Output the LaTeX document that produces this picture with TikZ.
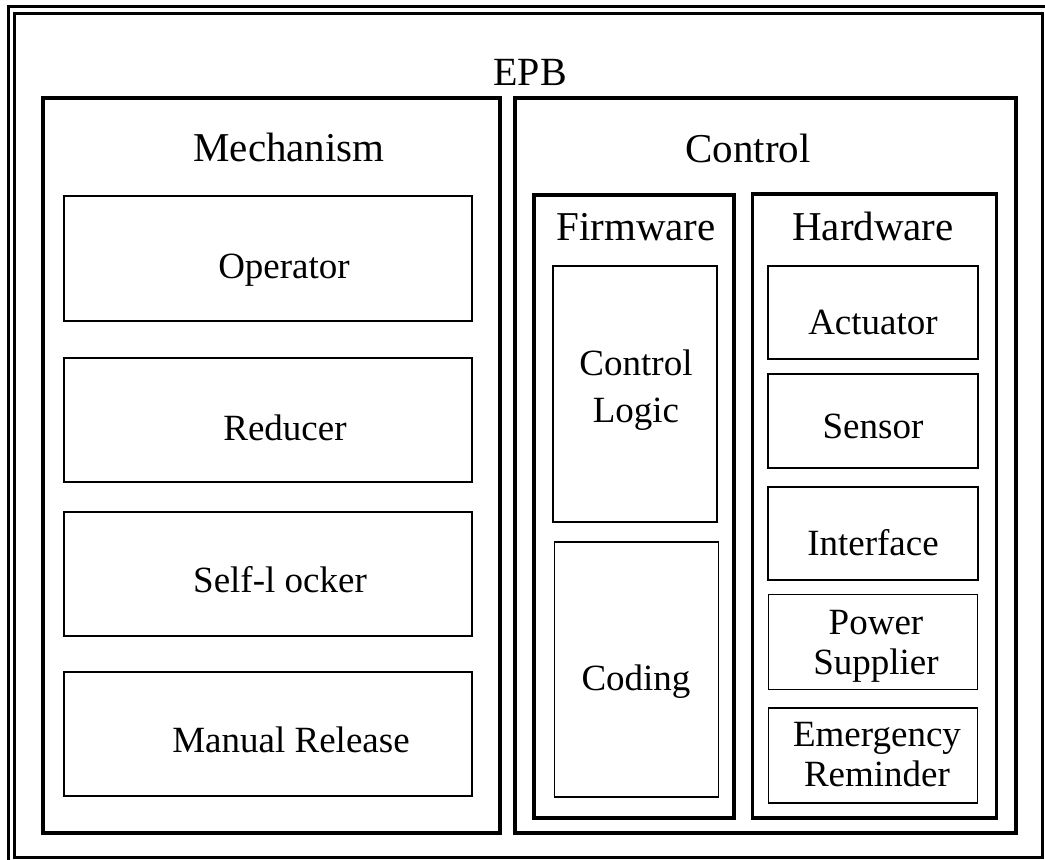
\documentclass[tikz,border=0pt]{standalone}
\usepackage{fontspec}
\setmainfont{Liberation Serif}
\begin{document}
\begin{tikzpicture}[x=1pt, y=-1pt,
    frame/.style={draw, line width=3.5pt, inner sep=0pt},
    part/.style={draw, line width=1.8pt, inner sep=0pt},
    head/.style={font=\fontsize{41}{46}\selectfont, anchor=base},
    word/.style={font=\fontsize{37}{40}\selectfont, anchor=base},
    lines/.style={font=\fontsize{37}{40}\selectfont, align=center}]
  \useasboundingbox (0,0) rectangle (1045,860);
  % double frame round the whole
  \draw[line width=3pt] (8,860) -- (8,6) -- (1045,6);
  \node[frame, line width=3pt, minimum width=1028pt, minimum height=844pt] (epb) at (528,435) {};
  \node[head, font=\fontsize{40}{44}\selectfont] (epbt) at (530,85) {EPB};

  % mechanism side
  \node[frame, minimum width=457pt, minimum height=735pt] (mech) at (271.5,465.5) {};
  \node[head] (mecht) at (289,161) {Mechanism};
  \node[part, minimum width=408pt, minimum height=125pt] (op) at (268,258.5) {};
  \node[part, minimum width=408pt, minimum height=124pt] (red) at (268,420) {};
  \node[part, minimum width=408pt, minimum height=124pt] (lock) at (268,574) {};
  \node[part, minimum width=408pt, minimum height=124pt] (man) at (268,734) {};
  \node[word] (opt) at (284,278) {Operator};
  \node[word] (redt) at (285,440) {Reducer};
  \node[word] (lockt) at (280,592) {Self-l ocker};
  \node[word] (mant) at (291,752) {Manual Release};

  % control side
  \node[frame, minimum width=501pt, minimum height=735pt] (ctrl) at (765.5,465.5) {};
  \node[head] (ctrlt) at (748,162) {Control};
  \node[frame, minimum width=200pt, minimum height=623pt] (fw) at (634,506.5) {};
  \node[head] (fwt) at (636,240) {Firmware};
  \node[part, minimum width=164pt, minimum height=256pt] (logic) at (635,394) {};
  \node[part, minimum width=164pt, minimum height=255pt] (code) at (636.5,669.5) {};
  \node[lines] (logict) at (636,390) {Control\\[7pt]Logic};
  \node[word] (codet) at (636,690) {Coding};

  \node[frame, minimum width=244pt, minimum height=624pt] (hw) at (874.5,506) {};
  \node[head] (hwt) at (873,240) {Hardware};
  \node[part, minimum width=210pt, minimum height=93pt] (act) at (873,312.5) {};
  \node[part, minimum width=210pt, minimum height=94pt] (sen) at (873,421) {};
  \node[part, minimum width=210pt, minimum height=93pt] (itf) at (873,533.5) {};
  \node[part, minimum width=209pt, minimum height=95pt] (pow) at (873,642) {};
  \node[part, minimum width=209pt, minimum height=95pt] (emg) at (873,755.5) {};
  \node[word] (actt) at (873,334) {Actuator};
  \node[word] (sent) at (873,438) {Sensor};
  \node[word] (itft) at (873,555) {Interface};
  \node[lines] (powt) at (876,646.5) {Power\\Supplier};
  \node[lines] (emgt) at (877,754.5) {Emergency\\Reminder};
\end{tikzpicture}
\end{document}
